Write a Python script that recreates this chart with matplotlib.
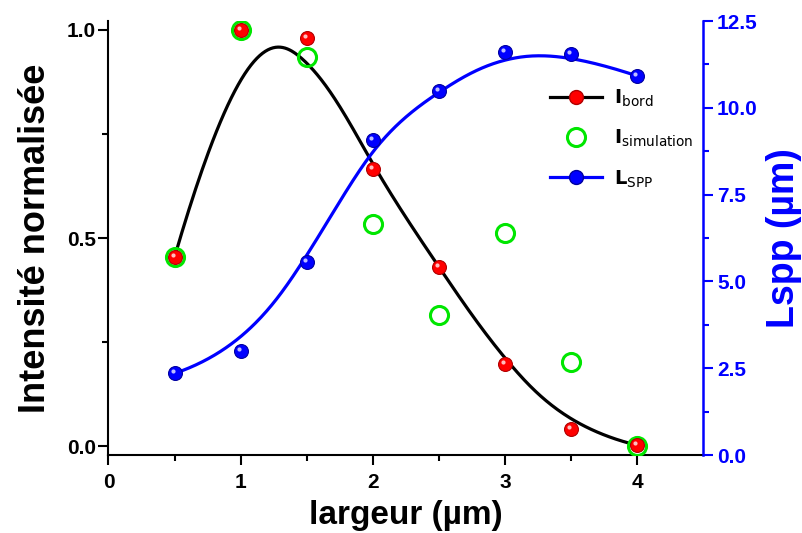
import matplotlib
matplotlib.use('Agg')
import matplotlib.pyplot as plt
import numpy as np
from matplotlib.lines import Line2D
from matplotlib.transforms import offset_copy

plt.rcParams['font.family'] = ['Liberation Sans', 'DejaVu Sans']
plt.rcParams['mathtext.default'] = 'regular'

# Data
largeur = [0.5, 1.0, 1.5, 2.0, 2.5, 3.0, 3.5, 4.0]
i_bord = [0.454, 1.0, 0.980, 0.666, 0.431, 0.196, 0.041, 0.002]
i_simulation = [0.454, 1.0, 0.936, 0.534, 0.314, 0.511, 0.201, 0.0]
l_spp = [2.35, 3.0, 5.56, 9.07, 10.49, 11.61, 11.55, 10.92]

x_ticks = [0, 1, 2, 3, 4]
left_ticks = [0.0, 0.5, 1.0]
right_ticks = [0.0, 2.5, 5.0, 7.5, 10.0, 12.5]

BLUE = '#0000ff'
RED = '#ff0000'
GREEN = '#00e600'


def _basis(i, p, u, t):
    # Cox-de Boor recursion
    if p == 0:
        return ((t[i] <= u) & (u < t[i + 1])).astype(float)
    out = np.zeros_like(u)
    if t[i + p] != t[i]:
        out += (u - t[i]) / (t[i + p] - t[i]) * _basis(i, p - 1, u, t)
    if t[i + p + 1] != t[i + 1]:
        out += (t[i + p + 1] - u) / (t[i + p + 1] - t[i + 1]) * _basis(i + 1, p - 1, u, t)
    return out


def bspline(cx, cy, k=3, n=400):
    """ Clamped cubic B-spline using the data points as control points """
    m = len(cx)
    t = np.concatenate([np.zeros(k), np.arange(m - k + 1), np.full(k, m - k)]).astype(float)
    u = np.linspace(0, m - k, n)
    u[-1] -= 1e-9
    N = np.array([_basis(i, k, u, t) for i in range(m)])
    return np.dot(np.asarray(cx), N), np.dot(np.asarray(cy), N)


def ball(ax, x, y, color, edge, size=10, zorder=5):
    """ Draw shaded 'sphere' markers: a filled circle plus a small highlight """
    ax.plot(x, y, 'o', ms=size, mfc=color, mec=edge, mew=0.8, ls='none', zorder=zorder)
    tr = offset_copy(ax.transData, fig=ax.figure, x=-2, y=2, units='dots')
    ax.plot(x, y, 'o', ms=size * 0.3, mfc='white', mec='none', alpha=0.75,
            ls='none', zorder=zorder + 0.1, transform=tr)


fig = plt.figure(figsize=(8.03, 5.33), dpi=100)
ax = fig.add_axes([0.1351, 0.1463, 0.8755 - 0.1351, 0.9606 - 0.1463])
ax2 = ax.twinx()

# Smooth B-spline connection lines
bx, by = bspline(largeur, i_bord)
sx, sy = bspline(largeur, l_spp)
ax.plot(bx, by, color='black', lw=2.3, zorder=3)
ax2.plot(sx, sy, color=BLUE, lw=2.3, zorder=3)

ax.plot(largeur, i_simulation, 'o', ms=13, mfc='none', mec=GREEN, mew=2.2, zorder=4)
ball(ax, largeur, i_bord, RED, '#b00000')
ball(ax2, largeur, l_spp, BLUE, '#0000a0')

# Axes limits and ticks
ax.set_xlim(0, 4.5)
ax.set_ylim(-0.0216, 1.0216)
ax2.set_ylim(0, 12.5)
ax.set_xticks(x_ticks)
ax.set_xticks(np.arange(0.5, 4.5, 1.0), minor=True)
ax.set_yticks(left_ticks)
ax.set_yticklabels(['0.0', '0.5', '1.0'])
ax.set_yticks([0.25, 0.75], minor=True)
ax2.set_yticks(right_ticks)
ax2.set_yticklabels(['%.1f' % t for t in right_ticks])
ax2.set_yticks(np.arange(1.25, 12.5, 2.5), minor=True)

for a in (ax, ax2):
    a.tick_params(which='major', direction='out', length=7, width=1.5, labelsize=15)
    a.tick_params(which='minor', direction='out', length=4, width=1.5)
    for lab in a.get_xticklabels() + a.get_yticklabels():
        lab.set_fontweight('bold')
ax.tick_params(axis='x', pad=6)
ax.tick_params(axis='y', pad=2)
ax2.tick_params(axis='y', which='both', colors=BLUE, pad=3)

ax.spines['top'].set_visible(False)
ax2.spines['top'].set_visible(False)
ax.spines['right'].set_visible(False)
ax2.spines['left'].set_visible(False)
ax2.spines['bottom'].set_visible(False)
for s in ('left', 'bottom'):
    ax.spines[s].set_linewidth(1.5)
ax2.spines['right'].set_linewidth(1.8)
ax2.spines['right'].set_color(BLUE)

ax.set_xlabel('largeur (µm)', fontsize=24, fontweight='bold', labelpad=6)
ax.set_ylabel('Intensité normalisée', fontsize=26, fontweight='bold', labelpad=10)
ax2.set_ylabel('Lspp (µm)', fontsize=27, fontweight='bold', color=BLUE, labelpad=6)

# Legend
handles = [
    Line2D([], [], color='black', lw=2.3, marker='o', ms=10, mfc=RED, mec='#b00000'),
    Line2D([], [], ls='none', marker='o', ms=13, mfc='none', mec=GREEN, mew=2.2),
    Line2D([], [], color=BLUE, lw=2.3, marker='o', ms=10, mfc=BLUE, mec='#0000a0'),
]
labels = [r'$\mathbf{I}_{bord}$', r'$\mathbf{I}_{simulation}$', r'$\mathbf{L}_{SPP}$']
ax.legend(handles, labels, loc='upper left', bbox_to_anchor=(0.713, 0.887),
          frameon=False, handlelength=2.7, labelspacing=0.98, handletextpad=0.6,
          prop={'family': ['DejaVu Sans'], 'size': 14})

fig.savefig('out.png', dpi=100)
